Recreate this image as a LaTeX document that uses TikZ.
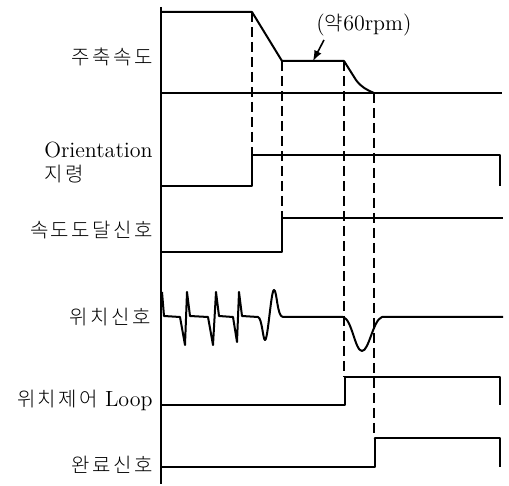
\documentclass[tikz,border=0pt]{standalone}
\usepackage{fontspec}
\usepackage{tikz}
\IfFontExistsTF{Noto Sans CJK KR Light}
  {\newfontfamily\krfont[LetterSpace=12]{Noto Sans CJK KR Light}}
  {\newfontfamily\krfont[LetterSpace=12]{Noto Sans CJK KR}}
\newcommand{\krtext}[1]{{\krfont\fontsize{10}{12}\selectfont #1}}

\begin{document}
\begin{tikzpicture}[x=0.5pt, y=-0.5pt,
  sig/.style={line width=1pt, line join=round},
  guide/.style={line width=0.7pt, dash pattern=on 5pt off 2.5pt},
  lab/.style={anchor=east, inner sep=0pt, align=left,
    font=\fontsize{11}{12}\selectfont\addfontfeatures{LetterSpace=4}}]
\useasboundingbox (0,0) rectangle (509,486);
% time axis
\draw[line width=0.9pt] (161,7) -- (161,484);
% signal names
\node[lab] (speed) at (153,57) {\krtext{주축속도}};
\node[lab] (orient) at (153,163) {Orientation\\\krtext{지령}};
\node[lab] (reach) at (153,230) {\krtext{속도도달신호}};
\node[lab] (pos) at (151,317) {\krtext{위치신호}};
\node[lab] (loop) at (153,400) {\krtext{위치제어} Loop};
\node[lab] (done) at (153,465) {\krtext{완료신호}};
% spindle speed
\draw[sig] (161,12) -- (252,12) -- (282,61) -- (344,61) -- (356,80)
  .. controls (361,87) and (367,90) .. (374,93);
\draw[sig] (161,93) -- (502,93);
\coordinate (plat) at (313,61);
\coordinate (tail) at (324,40);
\node[lab, anchor=center] (rpm) at (364,25) {(\krtext{약}60rpm)};
\draw[-latex, line width=0.8pt] (tail) -- (plat);
% orientation command
\draw[sig] (161,186) -- (252,186) -- (252,155) -- (500,155) -- (500,186);
% speed reached
\draw[sig] (161,252) -- (282,252) -- (282,218) -- (503,218);
% position signal
\draw[sig] (162,292) -- (164,316) -- (180,317) -- (185,345) -- (187,292) -- (190,316)
  -- (208,317) -- (213,345) -- (216,292) -- (219,316)
  -- (233,317) -- (237,342) -- (239,292) -- (242,316) -- (258,317)
  .. controls (262,318) and (263,340) .. (265,340)
  .. controls (268,340) and (271,290) .. (274,290)
  .. controls (277,290) and (277,317) .. (283,317) -- (343,317)
  .. controls (352,319) and (355,351) .. (362,351)
  .. controls (369,351) and (373,320) .. (382,317) -- (503,317);
% position loop
\draw[sig] (161,405) -- (345,405) -- (345,377) -- (500,377) -- (500,405);
% completion
\draw[sig] (161,467) -- (375,467) -- (375,438) -- (500,438) -- (500,467);
% timing guides
\draw[guide] (252,12) -- (252,155);
\draw[guide] (282,61) -- (282,218);
\draw[guide] (344,61) -- (344,377);
\draw[guide] (374,93) -- (374,438);
\end{tikzpicture}
\end{document}
